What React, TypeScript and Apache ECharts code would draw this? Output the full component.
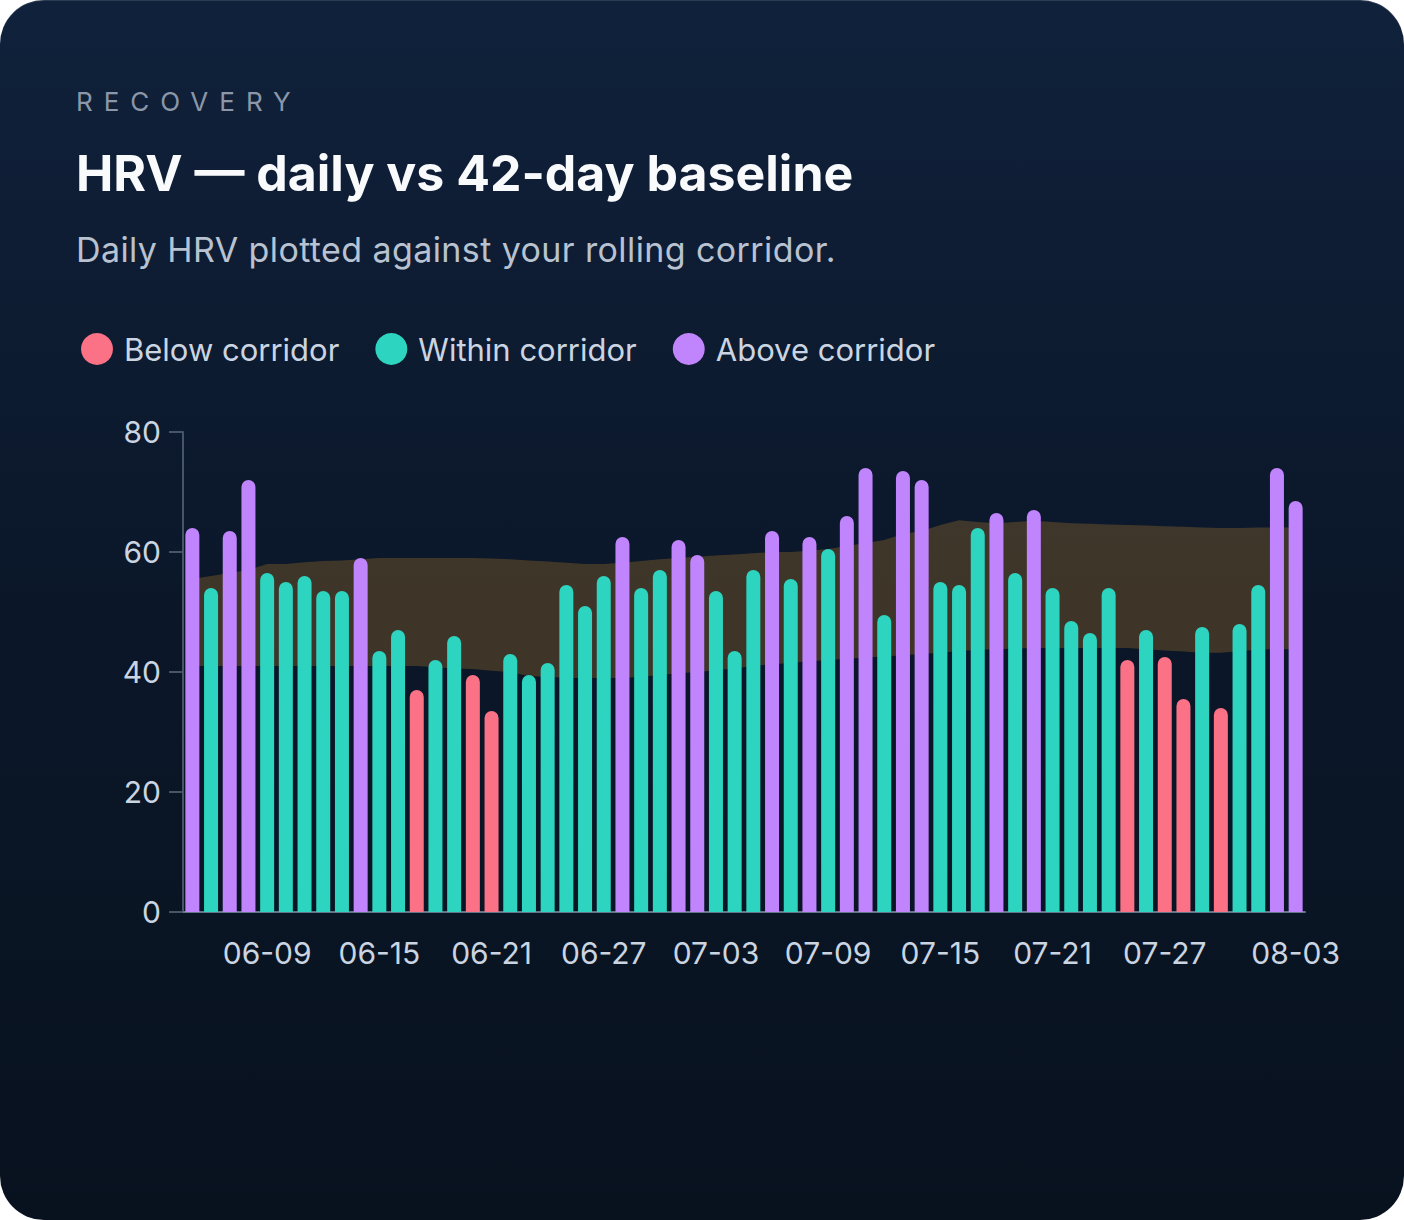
import { useEffect, useRef } from 'react'
import * as echarts from 'echarts'

// 每日 HRV（06-05 ~ 08-03）
const hrv = [
  64, 54, 63.5, 72, 56.5, 55, 56, 53.5, 53.5, 59,
  43.5, 47, 37, 42, 46, 39.5, 33.5, 43, 39.5, 41.5,
  54.5, 51, 56, 62.5, 54, 57, 62, 59.5, 53.5, 43.5,
  57, 63.5, 55.5, 62.5, 60.5, 66, 74, 49.5, 73.5, 72,
  55, 54.5, 64, 66.5, 56.5, 67, 54, 48.5, 46.5, 54,
  42, 47, 42.5, 35.5, 47.5, 34, 48, 54.5, 74, 68.5,
]
// 42 天基线走廊上沿
const upper = [
  55.5, 56, 56.5, 57, 58, 58, 58.3, 58.5, 58.6, 58.8,
  59, 59, 59, 59, 59, 59, 58.9, 58.8, 58.6, 58.4,
  58.2, 58, 58, 58.2, 58.5, 58.8, 59, 59.2, 59.4, 59.6,
  59.8, 60, 60, 60.2, 60.5, 61, 61.5, 62, 63, 63.5,
  64.5, 65.3, 65, 64.8, 65, 65.2, 65, 64.8, 64.7, 64.6,
  64.5, 64.4, 64.3, 64.2, 64.1, 64, 64, 64.1, 64.1, 64.1,
]
// 走廊下沿
const lower = [
  41, 41, 41, 41, 41, 41, 41, 41, 41, 41,
  41, 41, 41, 40.8, 40.6, 40.5, 40.2, 40, 39.3, 39.2,
  39, 39, 39, 39, 39.2, 39.5, 39.8, 40, 40.3, 40.6,
  41, 41.3, 41.5, 41.8, 42, 42.2, 42.4, 42.6, 42.8, 43,
  43.2, 43.5, 43.7, 43.8, 43.9, 44, 44, 44, 44, 44,
  44, 43.8, 43.6, 43.4, 43.2, 43.2, 43.5, 43.7, 43.8, 43.8,
]
const yTicks = [0, 20, 40, 60, 80]
// 显示刻度标签的日期下标
const labelIdx = [4, 10, 16, 22, 28, 34, 40, 46, 52, 59]

const days: string[] = []
for (let i = 0; i < hrv.length; i++) {
  const d = new Date(Date.UTC(2024, 5, 5 + i))
  days.push(String(d.getUTCMonth() + 1).padStart(2, '0') + '-' + String(d.getUTCDate()).padStart(2, '0'))
}

const RED = '#fb7185'
const TEAL = '#2dd4bf'
const PURPLE = '#c084fc'
const FONT = 'Inter, "Noto Sans", sans-serif'

const App: React.FC = () => {
  const chartRef = useRef<HTMLDivElement>(null)
  useEffect(() => {
    document.body.style.margin = '0'
    if (!chartRef.current) return
    const chart = echarts.init(chartRef.current, undefined, { renderer: 'svg' })
    const below = hrv.map((v, i) => (v < lower[i] ? v : null))
    const within = hrv.map((v, i) => (v >= lower[i] && v <= upper[i] ? v : null))
    const above = hrv.map((v, i) => (v > upper[i] ? v : null))
    const showIdx = (i: number) => labelIdx.includes(i)
    const bar = (name: string, color: string, data: (number | null)[]) => ({
      name,
      type: 'bar' as const,
      data,
      barWidth: 14,
      barGap: '-100%',
      z: 3,
      itemStyle: { color, borderRadius: [7, 7, 0, 0] },
    })
    chart.setOption({
      animation: false,
      textStyle: { fontFamily: FONT },
      legend: {
        left: 76,
        top: 328,
        icon: 'circle',
        itemWidth: 32,
        itemHeight: 32,
        itemGap: 36,
        textStyle: { color: '#cbd5e1', fontSize: 31, fontFamily: FONT, padding: [0, 0, 0, 6] },
        data: ['Below corridor', 'Within corridor', 'Above corridor'],
      },
      grid: { left: 183, right: 99, top: 432, bottom: 308 },
      xAxis: {
        type: 'category',
        data: days,
        axisLine: { lineStyle: { color: '#64748b', width: 2 } },
        axisTick: { alignWithLabel: true, interval: (i: number) => showIdx(i), length: 8, lineStyle: { color: '#64748b', width: 2 } },
        axisLabel: { interval: (i: number) => showIdx(i), color: '#cbd5e1', fontSize: 30, margin: 26, fontFamily: FONT },
      },
      yAxis: {
        type: 'value',
        min: yTicks[0],
        max: yTicks[yTicks.length - 1],
        interval: 20,
        splitLine: { show: false },
        axisLine: { show: true, lineStyle: { color: '#475569', width: 2 } },
        axisTick: { show: true, length: 14, lineStyle: { color: '#475569', width: 2 } },
        axisLabel: { color: '#cbd5e1', fontSize: 30, margin: 22, fontFamily: FONT },
      },
      series: [
        {
          name: 'lower',
          type: 'line',
          stack: 'band',
          data: lower,
          symbol: 'none',
          lineStyle: { opacity: 0 },
          z: 1,
        },
        {
          name: 'corridor',
          type: 'line',
          stack: 'band',
          data: upper.map((u, i) => +(u - lower[i]).toFixed(2)),
          symbol: 'none',
          lineStyle: { opacity: 0 },
          areaStyle: { color: 'rgba(240,160,40,0.32)' },
          z: 1,
        },
        bar('Below corridor', RED, below),
        bar('Within corridor', TEAL, within),
        bar('Above corridor', PURPLE, above),
      ],
    })
    return () => chart.dispose()
  }, [])

  return (
    <div
      style={{
        position: 'relative',
        width: 1404,
        height: 1220,
        borderRadius: 44,
        overflow: 'hidden',
        background: 'linear-gradient(180deg, #10213b 0%, #0b1729 50%, #08121f 100%)',
        boxShadow: 'inset 0 1px 0 rgba(255,255,255,0.12)',
        fontFamily: FONT,
      }}
    >
      <div style={{ position: 'absolute', left: 76, top: 86, fontSize: 26, letterSpacing: 11, color: '#8b97a8' }}>RECOVERY</div>
      <div style={{ position: 'absolute', left: 76, top: 143, fontSize: 50, fontWeight: 700, color: '#f8fafc' }}>
        HRV — daily vs 42-day baseline
      </div>
      <div style={{ position: 'absolute', left: 76, top: 229, fontSize: 34, color: '#b8c2d0', letterSpacing: 0.4 }}>
        Daily HRV plotted against your rolling corridor.
      </div>
      <div ref={chartRef} style={{ position: 'absolute', left: 0, top: 0, width: 1404, height: 1220 }} />
    </div>
  )
}

export default App
